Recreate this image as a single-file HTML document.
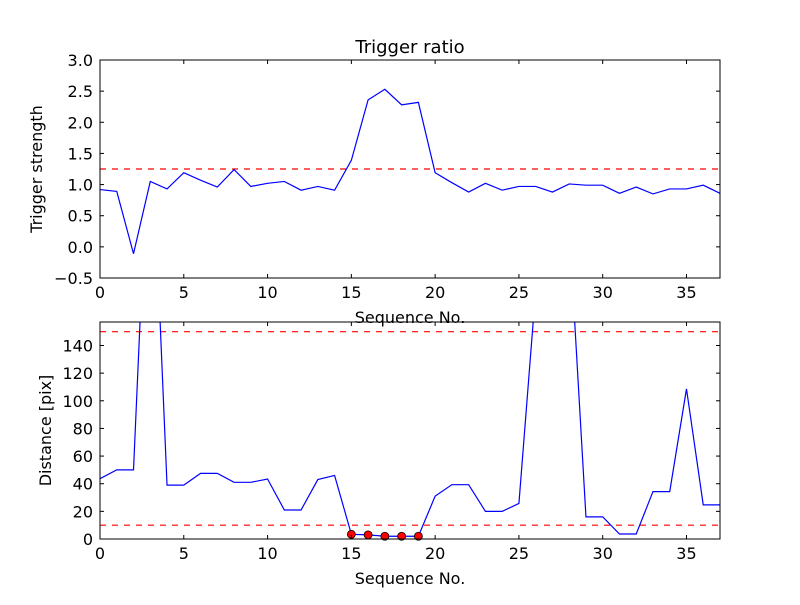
<!DOCTYPE html>
<html><head><meta charset="utf-8"><style>
body{margin:0;background:#fff;}
svg text{font-family:"DejaVu Sans","Liberation Sans",sans-serif;fill:#000;}
</style></head><body>
<svg id="c" width="800" height="600" xmlns="http://www.w3.org/2000/svg"></svg>
<script>
const seq = [0,1,2,3,4,5,6,7,8,9,10,11,12,13,14,15,16,17,18,19,20,21,22,23,24,25,26,27,28,29,30,31,32,33,34,35,36,37];
const strength = [0.92,0.89,-0.11,1.05,0.93,1.19,1.07,0.96,1.24,0.97,1.02,1.05,0.91,0.97,0.91,1.39,2.36,2.53,2.28,2.32,1.19,1.03,0.88,1.02,0.91,0.97,0.97,0.88,1.01,0.99,0.99,0.86,0.96,0.85,0.93,0.93,0.99,0.86];
const distance = [43.6,50,50,325,39,39,47.5,47.5,41,41,43.4,21,21,43,46,3.4,3,2,2,2,31,39.3,39.3,20,20,25.7,180,250,226,16,16,3.6,3.6,34.3,34.3,108.6,24.7,24.7];
const flagged = [15,16,17,18,19];
const strengthThreshold = [1.25];
const distanceThresholds = [150,10];
const xTicks = [0,5,10,15,20,25,30,35];
const yTicksTop = [-0.5,0.0,0.5,1.0,1.5,2.0,2.5,3.0];
const yTicksBot = [0,20,40,60,80,100,120,140];

const svg = document.getElementById('c');
const NS = 'http://www.w3.org/2000/svg';
function mk(tag, attrs, parent){const e=document.createElementNS(NS,tag);for(const k in attrs)e.setAttribute(k,attrs[k]);(parent||svg).appendChild(e);return e;}

function panel(o){
  const L=100,R=720,T=o.top,B=o.bottom;
  const sx=v=>L+(v-0)/(37-0)*(R-L);
  const sy=v=>B-(v-o.ymin)/(o.ymax-o.ymin)*(B-T);
  const g=mk('g',{});
  
  
  const cid='clip'+o.name;
  const cp=mk('clipPath',{id:cid},g);mk('rect',{x:L,y:T,width:R-L,height:B-T},cp);
  o.thr.forEach(t=>{
    const l=mk('line',{x1:L,x2:R,y1:sy(t),y2:sy(t),stroke:'#ff0000','stroke-width':1.2,'stroke-dasharray':'6,6'},g);
    
    
  });
  const pts=seq.map((x,i)=>sx(x).toFixed(2)+','+sy(o.data[i]).toFixed(2)).join(' ');
  const pl=mk('polyline',{points:pts,fill:'none',stroke:'#0000ff','stroke-width':1.2,'clip-path':'url(#'+cid+')'},g);
  
  
  if(o.markers){
    o.markers.forEach(i=>{
      const c=mk('circle',{cx:sx(seq[i]),cy:sy(o.data[i]),r:4,fill:'#ff0000',stroke:'#000','stroke-width':0.8},g);
      
      
    });
  }
  mk('rect',{x:L,y:T,width:R-L,height:B-T,fill:'none',stroke:'#000','stroke-width':1},g);
  xTicks.forEach(t=>{
    const x=sx(t);
    mk('line',{x1:x,x2:x,y1:B,y2:B-4,stroke:'#000'},g);
    mk('line',{x1:x,x2:x,y1:T,y2:T+4,stroke:'#000'},g);
    const tx=mk('text',{x:x,y:B+20,'text-anchor':'middle','font-size':16},g);tx.textContent=t;
    
    
  });
  o.yt.forEach(t=>{
    const y=sy(t);
    mk('line',{x1:L,x2:L+4,y1:y,y2:y,stroke:'#000'},g);
    mk('line',{x1:R,x2:R-4,y1:y,y2:y,stroke:'#000'},g);
    const tx=mk('text',{x:L-7,y:y+6,'text-anchor':'end','font-size':16},g);tx.textContent=o.fmt(t);
    
    
  });
  const xl=mk('text',{x:410,y:B+45,'text-anchor':'middle','font-size':16},g);xl.textContent='Sequence No.';
  
  
  const yl=mk('text',{x:0,y:0,'text-anchor':'middle','font-size':16,transform:'translate('+o.ylx+','+((T+B)/2)+') rotate(-90)'},g);yl.textContent=o.ylabel;
  
  
}
panel({name:'strength-panel',top:60,bottom:278,ymin:-0.5,ymax:3.0,data:strength,thr:strengthThreshold,yt:yTicksTop,fmt:t=>t.toFixed(1).replace('-','\u2212'),ylabel:'Trigger strength',ylx:42});
panel({name:'distance-panel',top:322,bottom:539,ymin:0,ymax:157,data:distance,thr:distanceThresholds,yt:yTicksBot,fmt:t=>String(t),ylabel:'Distance [pix]',ylx:51,markers:flagged});
const title=mk('text',{x:410,y:53,'text-anchor':'middle','font-size':18});title.textContent='Trigger ratio';


</script>
</body></html>
